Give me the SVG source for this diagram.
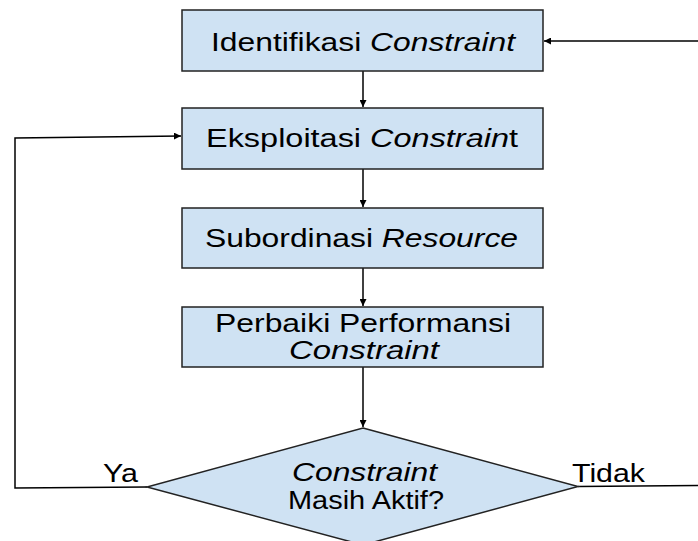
<svg xmlns="http://www.w3.org/2000/svg" width="698" height="541" viewBox="0 0 698 541">
<defs>
<marker id="ah" viewBox="0 0 10 10" refX="10" refY="5" markerWidth="7" markerHeight="7" markerUnits="userSpaceOnUse" orient="auto"><path d="M0,0 L10,5 L0,10 z" fill="#000"/></marker>
<style>
.box{fill:#cfe2f3;stroke:#222;stroke-width:1.5}
.t{font-family:"Liberation Sans",Arial,sans-serif;font-size:25px;fill:#000}
.c{fill:none;stroke:#000;stroke-width:1.5}
</style>
</defs>
<rect width="698" height="541" fill="#fff"/>
<g id="connectors">
<line class="c" x1="698" y1="41" x2="544" y2="41" marker-end="url(#ah)"/>
<line class="c" x1="363" y1="71" x2="363" y2="107" marker-end="url(#ah)"/>
<line class="c" x1="363" y1="169" x2="363" y2="207" marker-end="url(#ah)"/>
<line class="c" x1="363" y1="268" x2="363" y2="306" marker-end="url(#ah)"/>
<line class="c" x1="363" y1="367" x2="363" y2="427" marker-end="url(#ah)"/>
<polyline class="c" points="147,487 15,488 15,138 181,136" marker-end="url(#ah)"/>
<line class="c" x1="578" y1="486.5" x2="698" y2="485.5"/>
</g>
<g id="n1"><rect class="box" x="182" y="10" width="361" height="61"/><text class="t" x="211" y="51" textLength="304" lengthAdjust="spacingAndGlyphs">Identifikasi <tspan font-style="italic">Constraint</tspan></text></g>
<g id="n2"><rect class="box" x="182" y="108" width="361" height="61"/><text class="t" x="206" y="147" textLength="312" lengthAdjust="spacingAndGlyphs">Eksploitasi <tspan font-style="italic">Constrain</tspan>t</text></g>
<g id="n3"><rect class="box" x="182" y="208" width="361" height="60"/><text class="t" x="205" y="247" textLength="313" lengthAdjust="spacingAndGlyphs">Subordinasi <tspan font-style="italic">Resource</tspan></text></g>
<g id="n4"><rect class="box" x="182" y="307" width="361" height="60"/><text class="t" x="215" y="332" textLength="296" lengthAdjust="spacingAndGlyphs">Perbaiki Performansi</text><text class="t" x="289" y="359" font-style="italic" textLength="150" lengthAdjust="spacingAndGlyphs">Constraint</text></g>
<g id="n5"><polygon class="box" points="363,428 578,486.5 363,545 147,487"/><text class="t" x="292" y="481" font-style="italic" textLength="145" lengthAdjust="spacingAndGlyphs">Constraint</text><text class="t" x="288" y="509" textLength="156" lengthAdjust="spacingAndGlyphs">Masih Aktif?</text></g>
<text class="t" x="103" y="482" textLength="35" lengthAdjust="spacingAndGlyphs">Ya</text>
<text class="t" x="572" y="482" textLength="73" lengthAdjust="spacingAndGlyphs">Tidak</text>
</svg>
